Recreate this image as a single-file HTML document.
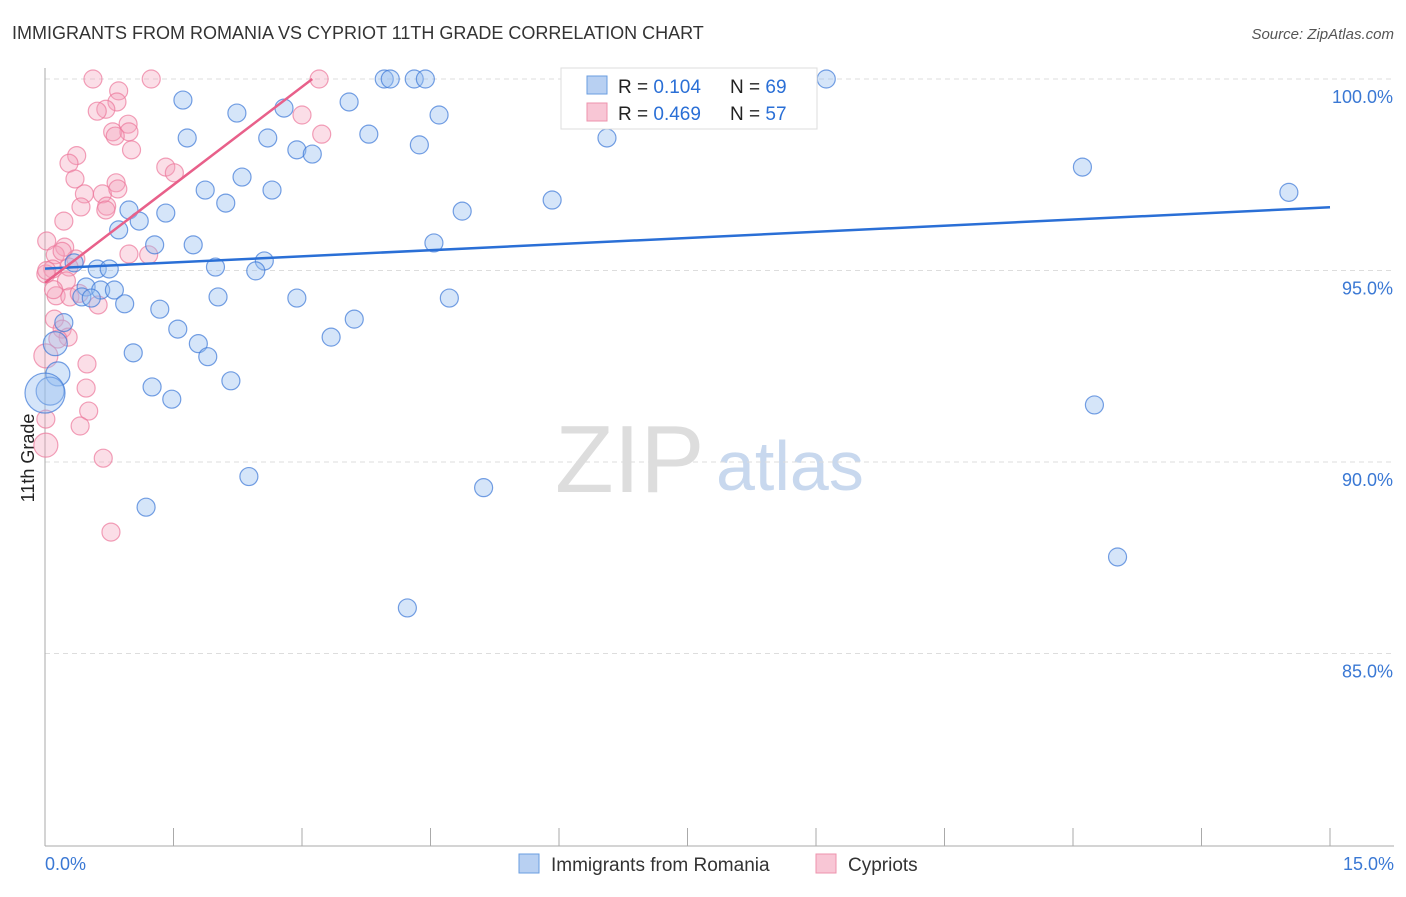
<!DOCTYPE html>
<html><head><meta charset="utf-8"><style>
body{margin:0;background:#fff;font-family:"Liberation Sans",sans-serif}
svg text{font-family:"Liberation Sans",sans-serif}
</style></head><body>
<svg id="c" width="1406" height="892">
<text x="12" y="39" font-size="18" fill="#333">IMMIGRANTS FROM ROMANIA VS CYPRIOT 11TH GRADE CORRELATION CHART</text>
<text x="1394" y="39" font-size="15" fill="#555" font-style="italic" text-anchor="end">Source: ZipAtlas.com</text>
<text x="34" y="458" font-size="18" fill="#222" transform="rotate(-90 34 458)" text-anchor="middle">11th Grade</text>
<text x="555" y="492" font-size="96" fill="#ddd" font-family="Liberation Serif">ZIP</text>
<text x="716" y="490" font-size="70" fill="#c8d8ee">atlas</text>
<g id="grid"></g><g id="pts"></g><g id="lines"></g>
<g>
<rect x="561" y="68" width="256" height="61" fill="#fff" stroke="#ddd"/>
<rect x="587" y="76" width="20" height="18" fill="#b8d0f2" stroke="#6a9ee0"/>
<rect x="587" y="103" width="20" height="18" fill="#f8c6d5" stroke="#ee93ad"/>
<text x="618" y="93" font-size="19" fill="#222">R = <tspan fill="#2a6fd6">0.104</tspan><tspan x="730">N = </tspan><tspan fill="#2a6fd6">69</tspan></text>
<text x="618" y="120" font-size="19" fill="#222">R = <tspan fill="#2a6fd6">0.469</tspan><tspan x="730">N = </tspan><tspan fill="#2a6fd6">57</tspan></text>
</g>
<g>
<rect x="519" y="854" width="20" height="19" fill="#b8d0f2" stroke="#6a9ee0"/>
<text x="551" y="871" font-size="19" fill="#333">Immigrants from Romania</text>
<rect x="816" y="854" width="20" height="19" fill="#f8c6d5" stroke="#ee93ad"/>
<text x="848" y="871" font-size="19" fill="#333">Cypriots</text>
</g>
<text x="45" y="870" font-size="18" fill="#3a78d4">0.0%</text>
<text x="1394" y="870" font-size="18" fill="#3a78d4" text-anchor="end">15.0%</text>
</svg>
<script>
const yTicks=[100,95,90,85];
const yTickLabels=["100.0%","95.0%","90.0%","85.0%"];
const blueX=[1.61,2.24,2.6,1.66,2.79,2.94,3.12,3.55,3.78,3.96,4.03,4.31,4.44,4.37,4.6,6.56,9.12,6.36,12.11,14.52,2.3,1.87,2.65,2.11,1.41,0.98,1.1,0.86,1.28,1.73,4.87,5.92,4.54,2.56,1.99,2.46,0.61,0.75,0.34,0.48,0.65,0.81,0.43,0.54,0.93,2.02,2.94,4.72,1.34,1.55,3.61,0.22,0.12,1.79,1.9,1.03,3.34,2.17,1.25,1.48,0.15,0.06,12.25,2.38,5.12,1.18,12.52,4.23,0.0];
const blueY=[99.45,99.11,98.46,98.46,99.24,98.15,98.04,99.4,98.56,100,100,100,100,98.28,99.06,98.46,100,100,97.7,97.04,97.44,97.1,97.1,96.76,96.5,96.58,96.29,96.06,95.67,95.67,96.55,96.84,95.72,95.25,95.09,94.99,95.04,95.04,95.2,94.57,94.49,94.49,94.31,94.28,94.13,94.31,94.28,94.28,93.99,93.47,93.73,93.64,93.09,93.09,92.75,92.85,93.26,92.12,91.96,91.64,92.3,91.85,91.49,89.62,89.33,88.82,87.52,86.19,91.8];
const blueR=[9,9,9,9,9,9,9,9,9,9,9,9,9,9,9,9,9,9,9,9,9,9,9,9,9,9,9,9,9,9,9,9,9,9,9,9,9,9,9,9,9,9,9,9,9,9,9,9,9,9,9,9,12,9,9,9,9,9,9,9,12,14,9,9,9,9,9,9,20];
const pinkX=[0.56,1.24,3.2,0.86,0.84,0.71,0.61,0.97,0.79,0.98,0.82,1.01,3.0,3.23,0.37,0.28,1.41,1.51,0.35,0.83,0.46,0.67,0.85,0.72,0.42,0.71,0.22,0.02,0.23,0.12,0.36,0.98,1.21,0.09,0.28,0.01,0.25,0.13,0.29,0.62,0.11,0.2,0.27,0.01,0.15,0.49,0.48,0.51,0.01,0.41,0.01,0.68,0.77,0.02,0.1,0.4,0.2];
const pinkY=[100,100,100,99.69,99.4,99.21,99.16,98.82,98.62,98.62,98.51,98.15,99.06,98.56,98,97.8,97.7,97.55,97.39,97.29,97,97,97.13,96.68,96.66,96.58,96.29,95.77,95.61,95.41,95.3,95.43,95.41,95.04,95.09,94.91,94.73,94.34,94.31,94.1,93.73,93.47,93.26,92.77,93.21,92.56,91.93,91.33,91.12,90.94,90.44,90.1,88.17,95.0,94.5,94.4,95.5];
const pinkR=[9,9,9,9,9,9,9,9,9,9,9,9,9,9,9,9,9,9,9,9,9,9,9,9,9,9,9,9,9,9,9,9,9,9,9,9,9,9,9,9,9,9,9,12,9,9,9,9,9,9,12,9,9,9,9,9,9];
const blueTrend=[[0,95.05],[15,96.65]];
const pinkTrend=[[0,94.68],[3.12,100]];
const X=v=>45+v/15*1285, Y=v=>79+(100-v)*38.3;
const NS="http://www.w3.org/2000/svg";
function mk(t,a,p){const e=document.createElementNS(NS,t);for(const k in a)e.setAttribute(k,a[k]);p.appendChild(e);return e;}
const g=document.getElementById('grid');
yTicks.forEach((t,i)=>{
 const l=mk('line',{x1:45,x2:1394,y1:Y(t),y2:Y(t),stroke:'#ddd','stroke-dasharray':'5,4'},g);
 
 
 const tx=mk('text',{x:1393,y:Y(t)+24,'font-size':18,fill:'#3a78d4','text-anchor':'end'},g);
 tx.textContent=yTickLabels[i];
 
 
});
const ax=mk('line',{x1:45,x2:45,y1:68,y2:846,stroke:'#aaa'},g);


const bx=mk('line',{x1:45,x2:1394,y1:846,y2:846,stroke:'#aaa'},g);


for(let i=0;i<=10;i++){const x=45+i*128.5;const t=mk('line',{x1:x,x2:x,y1:828,y2:846,stroke:'#aaa'},g);
 
 }
const P=document.getElementById('pts');
pinkX.forEach((x,i)=>{const c=mk('circle',{cx:X(x),cy:Y(pinkY[i]),r:pinkR[i],fill:'rgba(244,160,186,0.35)',stroke:'rgba(236,120,155,0.7)','stroke-width':1.2},P);
 
 });
blueX.forEach((x,i)=>{const c=mk('circle',{cx:X(x),cy:Y(blueY[i]),r:blueR[i],fill:'rgba(150,190,240,0.4)',stroke:'rgba(60,120,215,0.7)','stroke-width':1.2},P);
 
 });
const L=document.getElementById('lines');
const bl=mk('line',{x1:X(blueTrend[0][0]),y1:Y(blueTrend[0][1]),x2:X(blueTrend[1][0]),y2:Y(blueTrend[1][1]),stroke:'#2a6fd6','stroke-width':2.5},L);


const pl=mk('line',{x1:X(pinkTrend[0][0]),y1:Y(pinkTrend[0][1]),x2:X(pinkTrend[1][0]),y2:Y(pinkTrend[1][1]),stroke:'#e8608a','stroke-width':2.5},L);


</script>
</body></html>
